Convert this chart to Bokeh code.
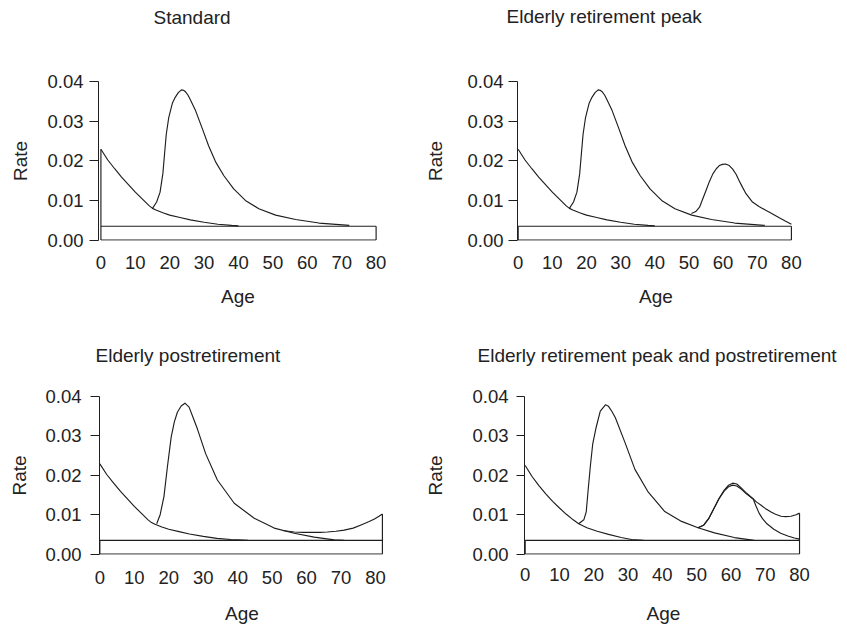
from bokeh.plotting import figure
from bokeh.layouts import row, column
from bokeh.models import Range1d, FixedTicker, Title
from bokeh.embed import file_html
from bokeh.resources import INLINE

# ---------------- data ----------------
titles = ["Standard", "Elderly retirement peak", "Elderly postretirement",
          "Elderly retirement peak and postretirement"]
x_label = "Age"
y_label = "Rate"
x_ticks = [0, 10, 20, 30, 40, 50, 60, 70, 80]
x_tick_labels = ["0", "10", "20", "30", "40", "50", "60", "70", "80"]
y_ticks = [0.0, 0.01, 0.02, 0.03, 0.04]
y_tick_labels = ["0.00", "0.01", "0.02", "0.03", "0.04"]

level_c = 0.0035                 # constant component
age_max = [80, 80, 82, 80]

# childhood curve (panels 1-3)
child_x = [0, 2, 4, 6, 8, 10, 12, 14, 15, 16, 18, 20, 23, 26, 30, 34, 38, 40]
child_y = [0.0229, 0.0202, 0.0180, 0.0159, 0.0140, 0.0121, 0.0104, 0.0087, 0.0080,
           0.0076, 0.0069, 0.0063, 0.0057, 0.0051, 0.0045, 0.0040, 0.0037, 0.0036]

# labour peak curve (panels 1-2)
lab_x = [15, 16.2, 17.2, 18.0, 18.5, 19.0, 19.7, 20.8, 21.6, 22.5, 23.4, 24.0, 24.6,
         25.3, 26.0, 27.4, 29.4, 31.3, 33.3, 35.7, 38.6, 42.0, 45.9, 50.8, 56.6, 63.4, 72.2]
lab_y = [0.0080, 0.0096, 0.0121, 0.0167, 0.0217, 0.0267, 0.0308, 0.0346, 0.0360, 0.0372,
         0.0379, 0.0378, 0.0374, 0.0366, 0.0354, 0.0329, 0.0283, 0.0238, 0.0198, 0.0163,
         0.0129, 0.0100, 0.0079, 0.0063, 0.0052, 0.0043, 0.0037]

# retirement peak (panel 2)
ret2_x = [50.7, 52, 53.1, 54, 55, 56, 57, 58, 58.9, 59.8, 60.7, 61.8, 62.8, 63.8, 64.7,
          65.7, 66.7, 68.6, 70.5, 72.5, 74.5, 76.3, 78.2, 80]
ret2_y = [0.0067, 0.0072, 0.0083, 0.0103, 0.0125, 0.0148, 0.0167, 0.0180, 0.0188, 0.0191,
          0.0192, 0.0188, 0.0179, 0.0166, 0.0150, 0.0133, 0.0117, 0.0096, 0.0085, 0.0075,
          0.0066, 0.0057, 0.0048, 0.0040]

# labour peak (panel 3)
lab3_x = [16.5, 17.5, 18.6, 19.6, 20.7, 21.6, 22.5, 23.6, 24.7, 25.9, 27.0, 28.3, 30.7,
          34.1, 39.0, 44.8, 50.6, 56.4, 62.2, 68.0, 70.9]
lab3_y = [0.0077, 0.0100, 0.0146, 0.0221, 0.0297, 0.0335, 0.0360, 0.0376, 0.0383, 0.0373,
          0.0348, 0.0318, 0.0255, 0.0188, 0.0129, 0.0091, 0.0066, 0.0053, 0.0043, 0.0036,
          0.0035]

# postretirement curve (panel 3)
post3_x = [53, 56.4, 59, 61.2, 64, 66, 68.5, 70.9, 73.5, 75.8, 78, 79.7, 81, 82]
post3_y = [0.0060, 0.0056, 0.0055, 0.0055, 0.0055, 0.0056, 0.0058, 0.0061, 0.0066,
           0.0074, 0.0082, 0.0089, 0.0096, 0.0102]

# panel 4 curves
child4_x = [0, 2, 4, 6, 8, 10, 12, 14, 15.6, 18, 21, 24.3, 28, 31, 34.5]
child4_y = [0.0225, 0.0197, 0.0174, 0.0153, 0.0134, 0.0117, 0.0101, 0.0087, 0.0077,
            0.0067, 0.0058, 0.0050, 0.0042, 0.0037, 0.0035]
lab4_x = [15.6, 17.1, 17.8, 18.3, 19.0, 19.7, 20.7, 21.9, 23.4, 24.3, 25.3, 26.3, 29.2,
          32.0, 35.9, 40.7, 45.6, 50.4, 55.2, 61.0, 66.8]
lab4_y = [0.0077, 0.0087, 0.0107, 0.0157, 0.0223, 0.0280, 0.0322, 0.0363, 0.0379, 0.0375,
          0.0362, 0.0346, 0.0281, 0.0215, 0.0157, 0.0108, 0.0083, 0.0067, 0.0054, 0.0042,
          0.0035]
ret4_x = [50.4, 52, 53.5, 55, 56.5, 58, 59.3, 60.5, 61.7, 63, 64.5, 66.5, 67.3, 68.2,
          69.2, 70.5, 72.5, 74.5, 76.6, 78.5, 80]
ret4_y = [0.0067, 0.0073, 0.0090, 0.0115, 0.0140, 0.0160, 0.0171, 0.0175, 0.0173, 0.0165,
          0.0153, 0.0140, 0.0122, 0.0104, 0.0090, 0.0077, 0.0063, 0.0053, 0.0046, 0.0041,
          0.0038]
both4_x = [50.4, 52, 53.5, 55, 56.5, 58, 59.3, 60.5, 61.7, 63, 64.5, 66.5, 67.5, 68.8,
           70, 71.7, 73, 74.6, 76, 77.5, 79, 80]
both4_y = [0.0067, 0.0073, 0.0090, 0.0115, 0.0141, 0.0162, 0.0175, 0.0180, 0.0178, 0.0168,
           0.0155, 0.0140, 0.0132, 0.0124, 0.0116, 0.0107, 0.0101, 0.0096, 0.0095, 0.0096,
           0.0100, 0.0104]

# ---------------- layout (page pixels) ----------------
FONT = "Liberation Sans"
INK = "#1e1e1e"
Y0, Y1 = -0.0001, 0.04

panels = [
    dict(ox=0, oy=0, w=422, h=322, fl=98, ft=81, fw=279, fh=159, xs=-0.7, scale=3.44,
         tick_out=9, ylab_so=6, yax_so=13, xlab_so=15, xax_so=14, toff=55, spacer=48),
    dict(ox=422, oy=0, w=425, h=322, fl=515, ft=81, fw=279, fh=159, xs=-0.2, scale=3.44,
         tick_out=9, ylab_so=5, yax_so=18, xlab_so=15, xax_so=14, toff=-11, spacer=49),
    dict(ox=0, oy=322, w=422, h=306, fl=99, ft=396, fw=285, fh=158, xs=-0.1, scale=3.446,
         tick_out=9, ylab_so=9, yax_so=12, xlab_so=16, xax_so=16, toff=-4, spacer=25),
    dict(ox=422, oy=322, w=425, h=306, fl=522, ft=392, fw=280, fh=162, xs=-0.2, scale=3.454,
         tick_out=8, ylab_so=8, yax_so=23, xlab_so=13, xax_so=19, toff=-47, spacer=25),
]


def make_panel(i):
    L = panels[i]
    xe = L["xs"] + L["fw"] / L["scale"]
    p = figure(width=L["w"], height=L["h"], output_backend="svg", toolbar_location=None,
               title=None,
               x_range=Range1d(L["xs"], xe), y_range=Range1d(Y0, Y1),
               min_border_left=L["fl"] - L["ox"], min_border_top=L["ft"] - L["oy"],
               min_border_right=L["ox"] + L["w"] - L["fl"] - L["fw"],
               min_border_bottom=L["oy"] + L["h"] - L["ft"] - L["fh"])
    p.outline_line_color = None
    p.xgrid.visible = False
    p.ygrid.visible = False
    p.background_fill_color = "white"
    p.border_fill_color = "white"

    xa = p.xaxis[0]
    xa.ticker = FixedTicker(ticks=x_ticks)
    xa.major_label_overrides = {t: s for t, s in zip(x_ticks, x_tick_labels)}
    xa.axis_line_color = None
    xa.major_tick_line_color = None
    xa.minor_tick_line_color = None
    xa.major_tick_out = 0
    xa.major_tick_in = 0
    xa.major_label_standoff = L["xlab_so"]
    xa.axis_label = x_label
    xa.axis_label_standoff = L["xax_so"]

    ya = p.yaxis[0]
    ya.ticker = FixedTicker(ticks=y_ticks)
    ya.major_label_overrides = {t: s for t, s in zip(y_ticks, y_tick_labels)}
    ya.axis_line_color = INK
    ya.major_tick_line_color = INK
    ya.minor_tick_line_color = None
    ya.major_tick_out = L["tick_out"]
    ya.major_tick_in = 0
    ya.major_label_standoff = L["ylab_so"]
    ya.axis_label = y_label
    ya.axis_label_standoff = L["yax_so"]

    for ax in (xa, ya):
        ax.major_label_text_font = FONT
        ax.major_label_text_font_size = "18.5px"
        ax.major_label_text_color = "#222222"
        ax.axis_label_text_font = FONT
        ax.axis_label_text_font_size = "19px"
        ax.axis_label_text_font_style = "normal"
        ax.axis_label_text_color = "#222222"

    # spacer between frame and title, then the title itself (outermost)
    p.add_layout(Title(text=" ", text_font_size="2px", standoff=L["spacer"]), "above")
    p.add_layout(Title(text=titles[i], align="left", offset=L["toff"], standoff=0,
                       vertical_align="top", text_font=FONT, text_font_size="19px",
                       text_font_style="normal", text_color="#222222"), "above")
    return p


def box(p, xmax, left_top, right_top):
    lw = 1.15
    p.line([0, xmax], [0, 0], line_color=INK, line_width=lw)
    p.line([0, xmax], [level_c, level_c], line_color=INK, line_width=lw)
    p.segment(x0=[0, xmax], y0=[0, 0], x1=[0, xmax], y1=[left_top, right_top],
              line_color=INK, line_width=lw)


def curve(p, xs, ys):
    p.line(xs, ys, line_color=INK, line_width=1.15, line_join="round")


p1 = make_panel(0)
box(p1, age_max[0], child_y[0], level_c)
curve(p1, child_x, child_y)
curve(p1, lab_x, lab_y)

p2 = make_panel(1)
box(p2, age_max[1], level_c, level_c)
curve(p2, child_x, child_y)
curve(p2, lab_x, lab_y)
curve(p2, ret2_x, ret2_y)

p3 = make_panel(2)
box(p3, age_max[2], level_c, post3_y[-1])
curve(p3, child_x + [43], child_y + [0.0035])
curve(p3, lab3_x, lab3_y)
curve(p3, post3_x, post3_y)

p4 = make_panel(3)
box(p4, age_max[3], level_c, both4_y[-1])
curve(p4, child4_x, child4_y)
curve(p4, lab4_x, lab4_y)
curve(p4, ret4_x, ret4_y)
curve(p4, both4_x, both4_y)

layout = column(row(p1, p2), row(p3, p4))
open("out.html", "w").write(file_html(layout, INLINE))
